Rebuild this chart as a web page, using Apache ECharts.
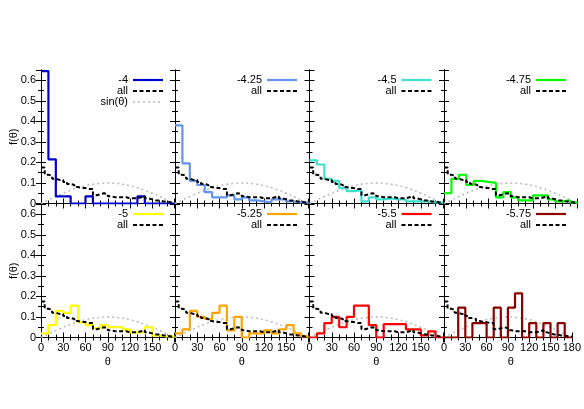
<!DOCTYPE html>
<html>
<head>
<meta charset="UTF-8">
<script src="https://cdn.jsdelivr.net/npm/echarts@6/dist/echarts.min.js"></script>
<style>
  * { margin: 0; padding: 0; }
  body { background: #fff; }
  #chart { width: 584px; height: 409px; }
</style>
</head>
<body>
<div id="chart"></div>
<script>
// bin edges 10 deg, 18 bins per panel
var labels = ['-4', '-4.25', '-4.5', '-4.75', '-5', '-5.25', '-5.5', '-5.75'];
var colors = ['#0000cc', '#6495ed', '#40e0d0', '#00ff00', '#ffff00', '#ffa500', '#ff0000', '#8b0000'];
var s_4    = [0.645, 0.215, 0.035, 0.035, 0, 0, 0.035, 0, 0, 0, 0, 0, 0, 0.035, 0, 0, 0, 0];
var s_425  = [0.38, 0.195, 0.11, 0.09, 0.055, 0.03, 0.03, 0.04, 0.02, 0.03, 0.015, 0.01, 0.005, 0.02, 0.02, 0.01, 0.005, 0.005];
var s_45   = [0.21, 0.19, 0.12, 0.11, 0.075, 0.06, 0.065, 0.01, 0.03, 0.02, 0.025, 0.02, 0.02, 0.01, 0.01, 0.01, 0.005, 0.005];
var s_475  = [0.05, 0.12, 0.14, 0.09, 0.11, 0.105, 0.1, 0.03, 0.055, 0.03, 0.015, 0.015, 0.04, 0.04, 0.02, 0.01, 0.015, 0.005];
var s_5    = [0.02, 0.06, 0.13, 0.12, 0.155, 0.075, 0.06, 0.045, 0.06, 0.05, 0.05, 0.04, 0.025, 0.025, 0.05, 0.01, 0.005, 0.005];
var s_525  = [0.02, 0.04, 0.13, 0.1, 0.09, 0.12, 0.155, 0.035, 0.1, 0, 0.02, 0.02, 0.035, 0.02, 0.04, 0.06, 0.02, 0.005];
var s_55   = [0, 0.02, 0.07, 0.1, 0.05, 0.1, 0.155, 0.155, 0.06, 0, 0.065, 0.065, 0.065, 0.04, 0.04, 0.01, 0.03, 0];
var s_575  = [0, 0, 0.145, 0, 0.07, 0.07, 0, 0.145, 0, 0.145, 0.215, 0, 0.07, 0, 0.07, 0, 0.07, 0];
var panels = [s_4, s_425, s_45, s_475, s_5, s_525, s_55, s_575];
// "all" histogram, 5 deg bins
var allVals = [0.175, 0.14, 0.135, 0.12, 0.115, 0.115, 0.105, 0.095, 0.09, 0.08, 0.075, 0.075,
               0.07, 0.07, 0.04, 0.045, 0.05, 0.045, 0.035, 0.03, 0.03, 0.03, 0.03, 0.025,
               0.025, 0.025, 0.03, 0.035, 0.025, 0.02, 0.015, 0.015, 0.01, 0.01, 0.005, 0.005];
// sin(theta) reference (scaled), every 10 deg
var sinVals = [0, 0.017, 0.034, 0.05, 0.064, 0.077, 0.087, 0.094, 0.098, 0.1,
               0.098, 0.094, 0.087, 0.077, 0.064, 0.05, 0.034, 0.017, 0];

function steps(vals, w) {
    var pts = [];
    for (var i = 0; i < vals.length; i++) pts.push([i * w, vals[i]]);
    pts.push([180, vals[vals.length - 1]]);
    return pts;
}

var lefts = [41, 175, 309.5, 444], tops = [70, 204], W = 133.5, H = 133.5;
var grid = [], xAxis = [], yAxis = [], series = [], graphic = [];
var font = 'Liberation Sans, DejaVu Sans, sans-serif';
var fs = 11;

for (var p = 0; p < 8; p++) {
    var col = p % 4, row = Math.floor(p / 4);
    var L = lefts[col], T = tops[row];
    grid.push({ left: L, top: T, width: W, height: H });
    var showX = row == 1, showY = col == 0, last = p == 7;
    var axLine = { lineStyle: { color: '#000', width: 1 } };
    var xa = {
        type: 'value', gridIndex: p, min: 0, max: 180, interval: 30,
        axisLine: axLine, splitLine: { show: false },
        axisTick: { inside: true, length: 5, lineStyle: { color: '#000' } },
        minorTick: { show: true, splitNumber: 3, length: 3, lineStyle: { color: '#000' } },
        axisLabel: { show: showX, fontSize: fs, fontFamily: font, color: '#000', margin: 5,
            formatter: (function (lst) { return function (v) { return (v == 180 && !lst) ? '' : v; }; })(last) }
    };
    xAxis.push(xa);
    xAxis.push(Object.assign({}, xa, { position: 'top', axisLabel: { show: false } }));
    var ya = {
        type: 'value', gridIndex: p, min: 0, max: 0.65, interval: 0.1,
        axisLine: axLine, splitLine: { show: false },
        axisTick: { inside: true, length: 5, lineStyle: { color: '#000' } },
        minorTick: { show: true, splitNumber: 2, length: 3, lineStyle: { color: '#000' } },
        axisLabel: { show: showY, fontSize: fs, fontFamily: font, color: '#000', margin: 5,
            showMaxLabel: false, formatter: function (v) { return +v.toFixed(1); } }
    };
    yAxis.push(ya);
    yAxis.push(Object.assign({}, ya, { position: 'right', axisLabel: { show: false } }));

    var xi = 2 * p, yi = 2 * p;
    series.push({ type: 'line', xAxisIndex: xi, yAxisIndex: yi, data: sinVals.map(function (v, i) { return [i * 10, v]; }),
        smooth: true, symbol: 'none', lineStyle: { color: '#bbb', width: 1.5, type: [2, 3] }, z: 1 });
    series.push({ type: 'line', xAxisIndex: xi, yAxisIndex: yi, data: steps(panels[p], 10), step: 'end',
        symbol: 'none', lineStyle: { color: colors[p], width: 2.2 }, z: 2 });
    series.push({ type: 'line', xAxisIndex: xi, yAxisIndex: yi, data: steps(allVals, 5), step: 'end',
        symbol: 'none', lineStyle: { color: '#000', width: 2, type: [4, 2.5] }, z: 3 });

    // key
    var keys = [[labels[p], { stroke: colors[p], lineWidth: 2.2 }], ['all', { stroke: '#000', lineWidth: 2, lineDash: [4, 2.5] }]];
    if (p == 0) keys.push(['sin(\u03b8)', { stroke: '#bbb', lineWidth: 1.5, lineDash: [2, 3] }]);
    keys.forEach(function (k, j) {
        var y = T + 10 + j * 11;
        graphic.push({ type: 'text', x: L + 87, y: y, style: { text: k[0], fontSize: fs, fontFamily: font,
            fill: '#000', align: 'right', verticalAlign: 'middle' } });
        graphic.push({ type: 'line', shape: { x1: L + 92, y1: y, x2: L + 122, y2: y }, style: k[1] });
    });
    if (showX) graphic.push({ type: 'text', x: L + W / 2, y: 362, style: { text: '\u03b8', fontSize: fs,
        fontFamily: font, fill: '#000', align: 'center', verticalAlign: 'middle' } });
    if (showY) graphic.push({ type: 'text', x: 14, y: T + H / 2, rotation: Math.PI / 2, style: { text: 'f(\u03b8)',
        fontSize: fs, fontFamily: font, fill: '#000', align: 'center', verticalAlign: 'middle' } });
}

var myChart = echarts.init(document.getElementById('chart'));
myChart.setOption({
    animation: false,
    grid: grid, xAxis: xAxis, yAxis: yAxis, series: series, graphic: graphic
});
</script>
</body>
</html>
